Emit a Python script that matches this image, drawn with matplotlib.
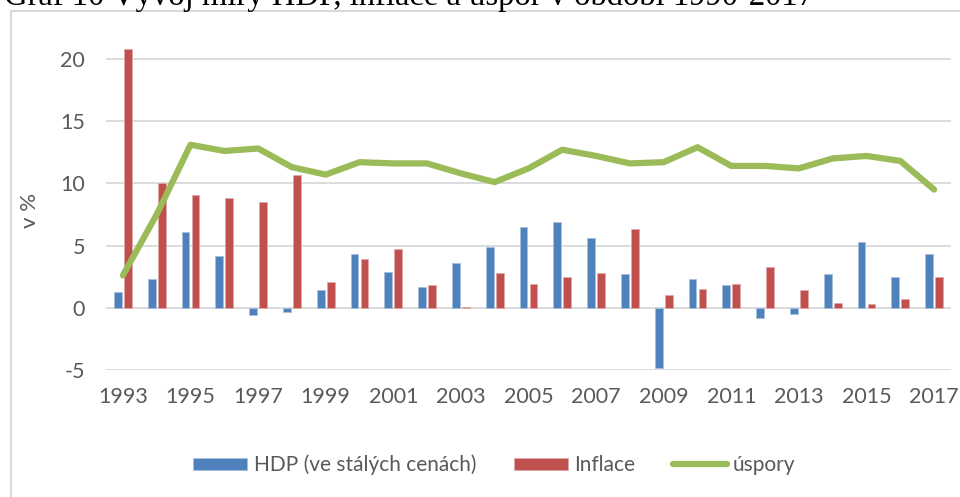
import matplotlib.pyplot as plt
from matplotlib.patches import Rectangle
import numpy as np

roky = list(range(1993, 2018))
hdp = [1.3, 2.3, 6.1, 4.2, -0.6, -0.3, 1.4, 4.3, 2.9, 1.7, 3.6, 4.9, 6.5,
       6.9, 5.6, 2.7, -4.8, 2.3, 1.8, -0.8, -0.5, 2.7, 5.3, 2.5, 4.3]
inflace = [20.8, 10.0, 9.1, 8.8, 8.5, 10.7, 2.1, 3.9, 4.7, 1.8, 0.1, 2.8, 1.9,
           2.5, 2.8, 6.3, 1.0, 1.5, 1.9, 3.3, 1.4, 0.4, 0.3, 0.7, 2.5]
uspory = [2.6, 7.5, 13.1, 12.6, 12.8, 11.3, 10.7, 11.7, 11.6, 11.6, 10.8, 10.1, 11.2,
          12.7, 12.2, 11.6, 11.7, 12.9, 11.4, 11.4, 11.2, 12.0, 12.2, 11.8, 9.5]

sedy = '#595959'
plt.rcParams['font.family'] = ['Lato', 'DejaVu Sans']
plt.rcParams['axes.unicode_minus'] = False

fig = plt.figure(figsize=(9.6, 4.97), dpi=100)
ax = fig.add_axes([106/960, 127/497, 845/960, 336/497])

x = np.arange(len(roky))
w = 0.23
b1 = ax.bar(x - 0.15, hdp, w, color='#4F81BD', edgecolor='#A7C0DE', linewidth=0.6,
            label='HDP (ve stálých cenách)', zorder=3)
b2 = ax.bar(x + 0.15, inflace, w, color='#C0504D', edgecolor='#E0A8A6', linewidth=0.6,
            label='Inflace', zorder=3)
l1, = ax.plot(x, uspory, color='#9BBB59', lw=4.5, solid_capstyle='round',
              solid_joinstyle='round', label='úspory', zorder=4)

ax.set_xlim(-0.5, len(roky) - 0.5)
ax.set_ylim(-5, 22)
ax.set_yticks([-5, 0, 5, 10, 15, 20])
ax.set_xticks(x[::2])
ax.set_xticklabels([str(r) for r in roky[::2]])
ax.yaxis.grid(True, color='#D9D9D9', linewidth=1.3, zorder=0)
ax.set_axisbelow(True)
for s in ax.spines.values():
    s.set_visible(False)
ax.tick_params(length=0, labelsize=15.5, labelcolor=sedy)
ax.tick_params(axis='y', pad=15)
ax.tick_params(axis='x', pad=12)

ax.set_ylabel('v %', fontsize=16, color=sedy)
ax.yaxis.set_label_coords(-0.078, 0.476)

ax.legend([b1, b2, l1], ['HDP (ve stálých cenách)', 'Inflace', 'úspory'],
          loc='center', bbox_to_anchor=(0.515, (497 - 465) / 497), bbox_transform=fig.transFigure,
          ncol=3, frameon=False, fontsize=15, labelcolor=sedy, handlelength=2.6,
          handleheight=0.55, handletextpad=0.3, columnspacing=1.8)

# rámeček grafu (pravý a spodní okraj jsou oříznuté)
fig.patches.append(Rectangle((11/960, -0.1), 1.2, 1 - 11/497 + 0.1, transform=fig.transFigure,
                             fill=False, edgecolor='#D9D9D9', linewidth=1.5))

fig.text(0.004, 1 - 5/497, 'Graf 10 Vývoj míry HDP, inflace a úspor v období 1990-2017',
         family='Liberation Serif', fontsize=23.5, va='baseline', ha='left', color='black')

fig.savefig('out.png', dpi=100)
